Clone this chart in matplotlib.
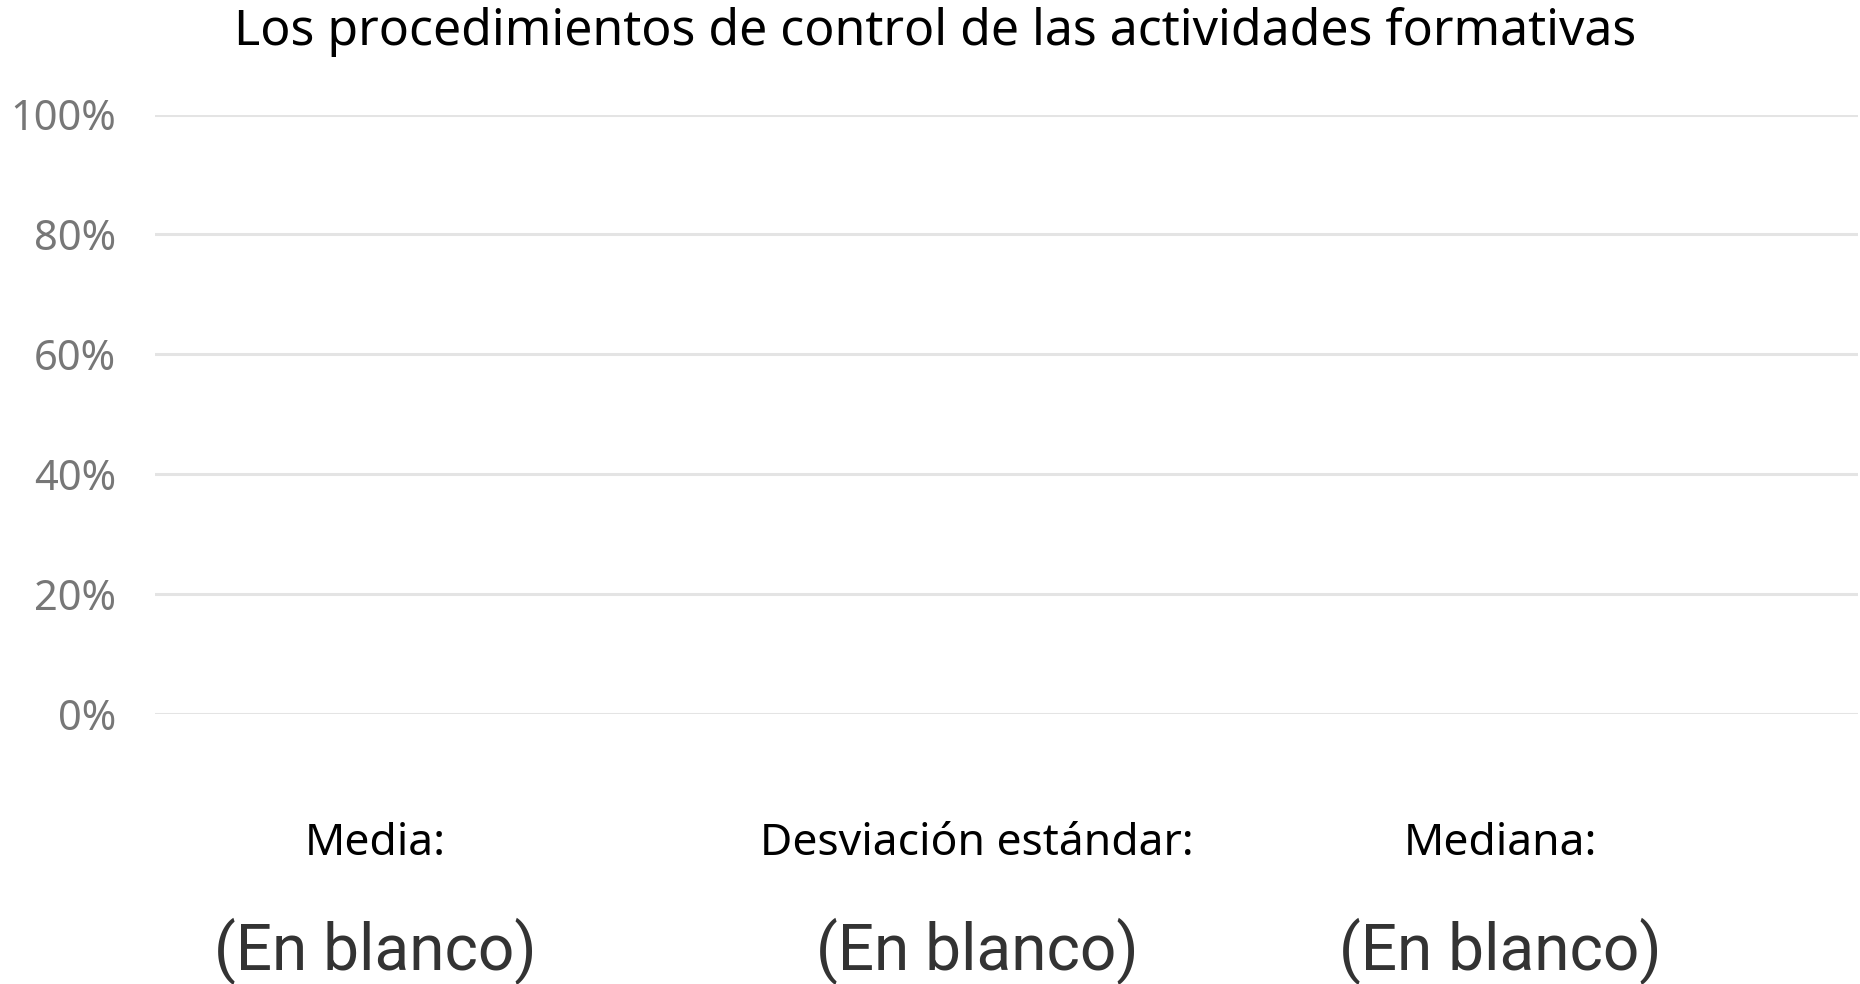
import matplotlib
matplotlib.use("Agg")
import matplotlib.pyplot as plt
from matplotlib.ticker import FuncFormatter

# ---- data ----
title = "Los procedimientos de control de las actividades formativas"
y_ticks = [0, 20, 40, 60, 80, 100]
categories = []          # no data rows (blank)
values = []              # no values
stat_labels = ["Media:", "Desviación estándar:", "Mediana:"]
stat_values = ["(En blanco)", "(En blanco)", "(En blanco)"]
stat_x = [375, 977, 1500]  # pixel centres of the cards

W, H = 1860, 984
fig = plt.figure(figsize=(W / 100, H / 100), dpi=100)
fig.patch.set_facecolor("white")

ax = fig.add_axes([155 / W, (H - 714) / H, (1858 - 155) / W, (714 - 114.5) / H])
ax.set_ylim(0, 100)
ax.set_xlim(0, 1)
if categories:
    ax.bar(categories, values, color="#118DFF")
ax.set_yticks(y_ticks)
ax.yaxis.set_major_formatter(FuncFormatter(lambda v, p: f"{int(v)}%"))
ax.set_xticks([])
ax.tick_params(axis="y", length=0, pad=28, labelsize=30, labelcolor="#777777")
for lbl in ax.get_yticklabels():
    lbl.set_fontfamily("Noto Sans")
for s in ax.spines.values():
    s.set_visible(False)
ax.grid(axis="y", color="#e4e4e4", linewidth=2.2)
ax.set_axisbelow(True)

fig.text(935 / W, 1 - 32 / H, title, ha="center", va="center",
         fontsize=36, family="Noto Sans", color="#000000")

for x, lab, val in zip(stat_x, stat_labels, stat_values):
    fig.text(x / W, 1 - 844 / H, lab, ha="center", va="center",
             fontsize=32, family="Noto Sans", color="#000000")
    fig.text(x / W, 1 - 951 / H, val, ha="center", va="center",
             fontsize=46, family="Roboto", color="#333333")

fig.savefig("out.png", dpi=100, facecolor="white")
